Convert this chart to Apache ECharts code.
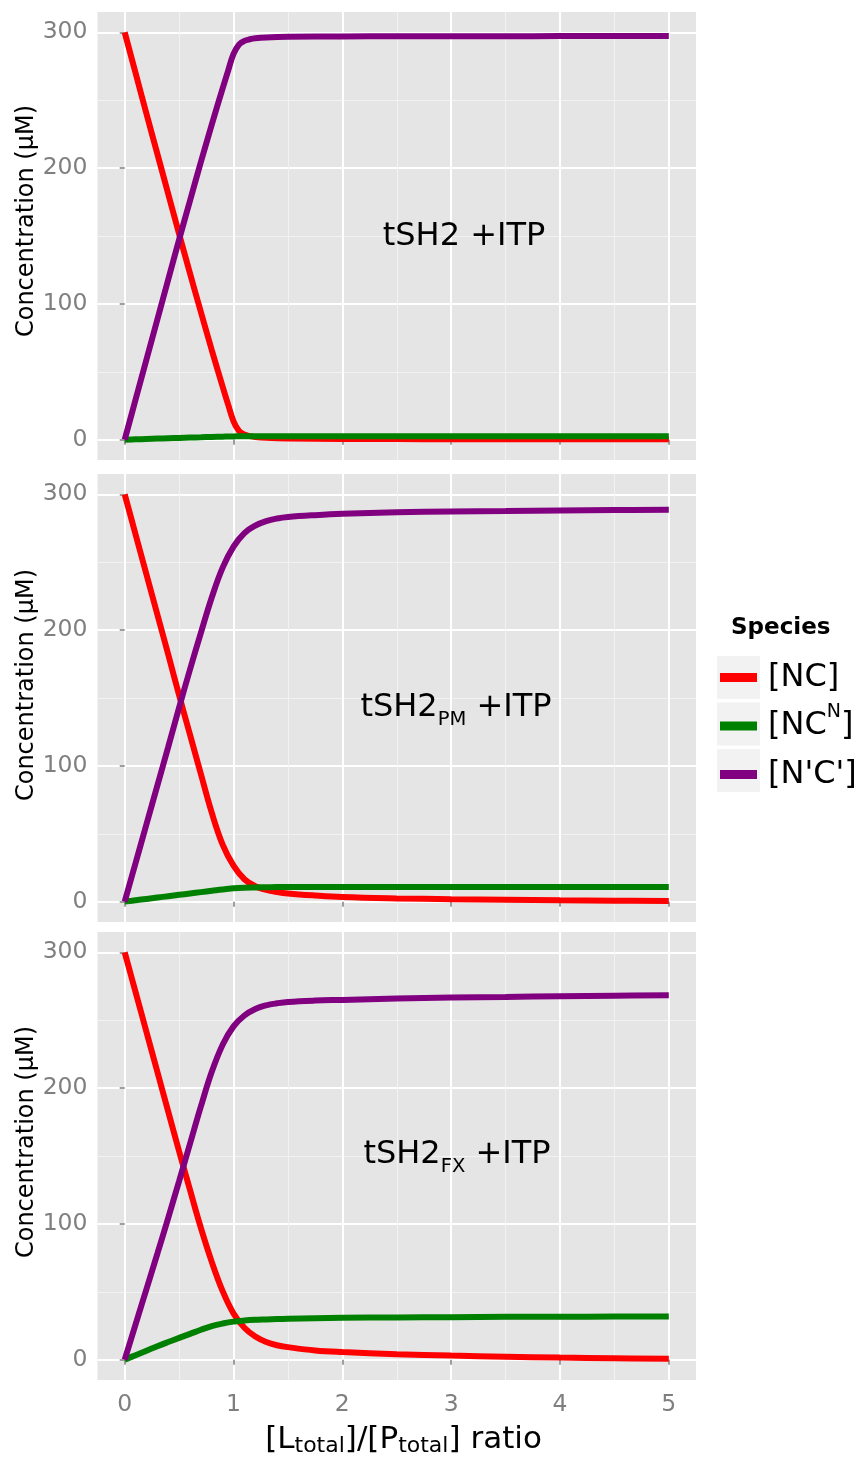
<!DOCTYPE html>
<html><head><meta charset="utf-8">
<script src="https://cdn.jsdelivr.net/npm/echarts@6/dist/echarts.min.js"></script>
<style>html,body{margin:0;padding:0;background:#fff;}#c{width:859px;height:1458px;}</style>
</head><body><div id="c"></div>
<script>
// ---- data ----
const speciesNames = ['[NC]', '[NC^N]', "[N'C']"];
const speciesColors = ['#ff0000', '#008000', '#800080'];
const panelLabels = ['tSH2 +ITP', 'tSH2_PM +ITP', 'tSH2_FX +ITP'];
const xTicks = [0, 1, 2, 3, 4, 5];
const xMinorTicks = [0.5, 1.5, 2.5, 3.5, 4.5];
const yTicks = [0, 100, 200, 300];
const yMinorTicks = [50, 150, 250];

// panel 1: tSH2 +ITP
const ratio1 = [0, 0.1, 0.2, 0.3, 0.4, 0.5, 0.6, 0.7, 0.8, 0.9, 0.95, 1.0, 1.05, 1.1, 1.15, 1.2, 1.3, 1.5, 2, 2.5, 3, 3.5, 4, 4.5, 5];
const nc1  = [300, 270, 240, 210.5, 181, 151.5, 122.5, 94, 66, 39, 26, 13.5, 6.5, 3.8, 2.6, 1.9, 1.3, 0.8, 0.5, 0.4, 0.3, 0.3, 0.25, 0.2, 0.2];
const ncn1 = [0, 0.25, 0.5, 0.75, 1.0, 1.25, 1.5, 1.75, 2.0, 2.2, 2.3, 2.4, 2.45, 2.5, 2.5, 2.5, 2.5, 2.5, 2.5, 2.5, 2.5, 2.5, 2.5, 2.5, 2.5];
const npc1 = [0, 29.5, 59, 88.5, 118, 147.3, 176, 204.5, 232, 258.8, 271.7, 284.1, 291, 293.7, 294.9, 295.6, 296.2, 296.7, 297, 297.1, 297.2, 297.2, 297.25, 297.3, 297.3];

// panel 2: tSH2_PM +ITP
const ratio2 = [0, 0.1, 0.2, 0.3, 0.4, 0.5, 0.6, 0.7, 0.8, 0.9, 1.0, 1.1, 1.2, 1.3, 1.4, 1.5, 1.75, 2, 2.5, 3, 3.5, 4, 4.5, 5];
const nc2  = [300, 270.5, 241, 211.5, 182, 152, 123, 94, 65.5, 42, 26.5, 16.5, 11.3, 8.7, 7.1, 6.0, 4.5, 3.4, 2.4, 1.8, 1.4, 1.0, 0.7, 0.5];
const ncn2 = [0, 1.0, 2.0, 3.0, 4.0, 5.0, 6.0, 7.0, 8.0, 9.0, 9.8, 10.3, 10.5, 10.6, 10.7, 10.7, 10.8, 10.8, 10.8, 10.8, 10.8, 10.8, 10.8, 10.8];
const npc2 = [0, 28.5, 57, 85.5, 114, 143, 171, 198, 224, 246, 261.5, 271.5, 277, 280.3, 282.2, 283.3, 284.7, 285.7, 286.8, 287.4, 287.8, 288.2, 288.5, 288.7];

// panel 3: tSH2_FX +ITP
const ratio3 = [0, 0.1, 0.2, 0.3, 0.4, 0.5, 0.6, 0.7, 0.8, 0.9, 1.0, 1.1, 1.2, 1.3, 1.4, 1.5, 1.75, 2, 2.5, 3, 3.5, 4, 4.5, 5];
const nc3  = [300, 270.7, 241.4, 212, 182.7, 153.5, 125, 97, 72, 50.5, 34, 23.5, 17, 13, 10.6, 9.2, 6.8, 5.6, 4, 3, 2.2, 1.5, 1, 0.6];
const ncn3 = [0, 3.3, 6.6, 9.9, 13, 16, 19, 22, 24.7, 26.6, 28, 28.8, 29.3, 29.6, 29.9, 30.1, 30.5, 30.8, 31.1, 31.3, 31.5, 31.6, 31.7, 31.7];
const npc3 = [0, 26, 52, 78, 104.5, 131.5, 159, 186.5, 212, 232, 245.5, 253.5, 258.3, 261, 262.5, 263.5, 264.5, 265, 266, 266.7, 267.2, 267.7, 268.1, 268.4];

// ---- chart ----
const FONT = 'DejaVu Sans';
const panels = [
  { x: ratio1, ys: [nc1, ncn1, npc1] },
  { x: ratio2, ys: [nc2, ncn2, npc2] },
  { x: ratio3, ys: [nc3, ncn3, npc3] }
];
const gridTops = [12, 474, 932];
const GRID_LEFT = 97.5, GRID_W = 598.5, GRID_H = 448;

const grids = [], xAxes = [], yAxes = [], series = [];
panels.forEach((p, i) => {
  grids.push({ left: GRID_LEFT, width: GRID_W, top: gridTops[i], height: GRID_H,
    show: true, backgroundColor: '#e5e5e5', borderWidth: 0 });
  // minor grid axes
  xAxes.push({ type: 'value', gridIndex: i, position: 'top', min: -0.25, max: 5.25,
    axisLine: { show: false }, axisLabel: { show: false },
    axisTick: { show: false, customValues: xMinorTicks },
    splitLine: { show: true, lineStyle: { color: '#f2f2f2', width: 1 } } });
  yAxes.push({ type: 'value', gridIndex: i, position: 'right', min: -15, max: 315,
    axisLine: { show: false }, axisLabel: { show: false },
    axisTick: { show: false, customValues: yMinorTicks },
    splitLine: { show: true, lineStyle: { color: '#f2f2f2', width: 1 } } });
  // major axes
  xAxes.push({ type: 'value', gridIndex: i, position: 'bottom', min: -0.25, max: 5.25,
    axisLine: { show: false },
    axisLabel: { show: i === 2, customValues: xTicks, margin: 13, color: '#7f7f7f',
      fontFamily: FONT, fontSize: 23.5 },
    axisTick: { show: true, customValues: xTicks, length: 5, lineStyle: { color: '#7f7f7f', width: 1.5 } },
    splitLine: { show: true, lineStyle: { color: '#ffffff', width: 2 } } });
  yAxes.push({ type: 'value', gridIndex: i, position: 'left', min: -15, max: 315,
    axisLine: { show: false },
    axisLabel: { show: true, customValues: yTicks, margin: 10, color: '#7f7f7f',
      fontFamily: FONT, fontSize: 23.5 },
    axisTick: { show: true, customValues: yTicks, length: 5, lineStyle: { color: '#7f7f7f', width: 1.5 } },
    splitLine: { show: true, lineStyle: { color: '#ffffff', width: 2 } } });
  p.ys.forEach((vals, k) => {
    series.push({
      name: speciesNames[k], type: 'line',
      xAxisIndex: 2 * i + 1, yAxisIndex: 2 * i + 1,
      data: p.x.map((xv, j) => [xv, vals[j]]),
      showSymbol: false, smooth: 0.4,
      color: speciesColors[k],
      lineStyle: { width: 6, color: speciesColors[k] },
      emphasis: { disabled: true }
    });
  });
});

const keyTops = [656, 702.5, 749];
const graphics = [];
keyTops.forEach(t => graphics.push({ type: 'rect', left: 717, top: t, z: 0,
  shape: { width: 43, height: 43 }, style: { fill: '#f2f2f2' } }));

const annoPos = [[464, 237], [456, 708], [457, 1155]];
const annoText = ['tSH2 +ITP', 'tSH2{sub|PM} +ITP', 'tSH2{sub|FX} +ITP'];
annoPos.forEach((pt, i) => graphics.push({ type: 'text', x: pt[0], y: pt[1], z: 10,
  style: { text: annoText[i], fontFamily: FONT, fontSize: 32, fill: '#000',
    align: 'center', verticalAlign: 'middle',
    rich: { sub: { fontFamily: FONT, fontSize: 19.5, fill: '#000', padding: [24, 0, 0, 0] } } } }));

const yTitleY = [221, 685, 1142];
yTitleY.forEach(yy => graphics.push({ type: 'text', x: 27, y: yy, rotation: Math.PI / 2,
  style: { text: 'Concentration (μM)', fontFamily: FONT, fontSize: 24, fill: '#000',
    align: 'center', verticalAlign: 'middle' } }));

graphics.push({ type: 'text', x: 403.5, y: 1440,
  style: { text: '[L{sub|total}]/[P{sub|total}] ratio', fontFamily: FONT, fontSize: 31, fill: '#000',
    align: 'center', verticalAlign: 'middle',
    rich: { sub: { fontFamily: FONT, fontSize: 22, fill: '#000', padding: [13, 0, 0, 0] } } } });

const chart = echarts.init(document.getElementById('c'), null, { renderer: 'canvas' });
chart.setOption({
  animation: false,
  backgroundColor: '#ffffff',
  title: { text: 'Species', left: 731, top: 617, padding: 0,
    textStyle: { fontFamily: FONT, fontSize: 23, fontWeight: 'bold', color: '#000' } },
  legend: {
    data: speciesNames, orient: 'vertical', left: 717, top: 656, padding: 0,
    itemWidth: 43, itemHeight: 43, itemGap: 3.5,
    icon: 'path://M0,0 M43,43 M3,17 L40,17 L40,26 L3,26 Z',
    itemStyle: { borderWidth: 0 },
    selectedMode: false,
    formatter: n => n === '[NC^N]' ? '[NC{sup|N}]' : n,
    textStyle: { fontFamily: FONT, fontSize: 32, color: '#000', lineHeight: 43, padding: [0, 0, 0, 3],
      rich: { sup: { fontFamily: FONT, fontSize: 19, color: '#000', lineHeight: 43, padding: [0, 0, 28, 0] } } }
  },
  grid: grids, xAxis: xAxes, yAxis: yAxes, series: series,
  graphic: graphics
});
</script></body></html>
